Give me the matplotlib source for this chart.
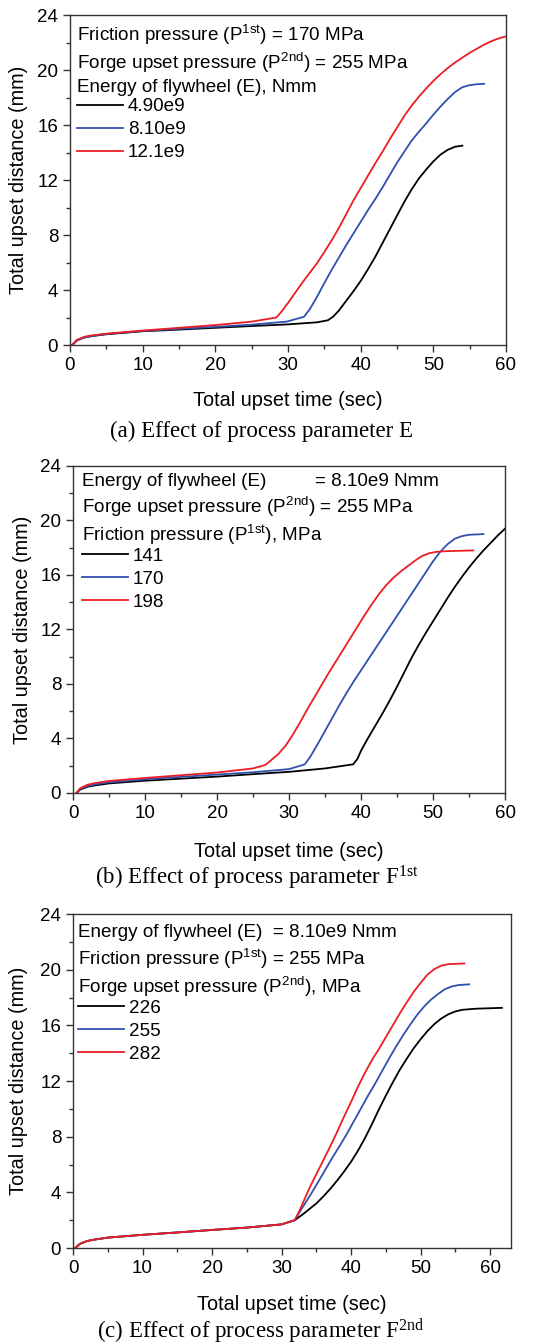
import numpy as np
import matplotlib.pyplot as plt
from matplotlib.ticker import MultipleLocator

plt.rcParams['font.family'] = 'Liberation Sans'
plt.rcParams['mathtext.default'] = 'regular'

# (a) effect of flywheel energy E
t_a_black = [0.3, 1, 2, 3, 5, 10, 15, 20, 25, 30, 34, 35.5, 36.2, 37, 38, 39, 40, 41, 42,
             43, 44, 45, 46, 47, 48, 49, 50, 51, 52, 53, 54]
d_a_black = [0, 0.35, 0.55, 0.65, 0.78, 1.0, 1.12, 1.25, 1.38, 1.5, 1.65, 1.8, 2.05, 2.5, 3.2,
             3.9, 4.65, 5.5, 6.4, 7.4, 8.4, 9.4, 10.4, 11.3, 12.1, 12.75, 13.35, 13.85, 14.2,
             14.42, 14.5]
t_a_blue = [0.3, 1, 2, 3, 5, 10, 15, 20, 25, 29.8, 32.2, 33, 34, 35, 36, 37, 38, 39, 40, 41,
            42, 43, 44, 45, 46, 47, 48, 49, 50, 51, 52, 53, 54, 55, 56, 57]
d_a_blue = [0, 0.35, 0.55, 0.65, 0.8, 1.02, 1.18, 1.32, 1.48, 1.7, 2.05, 2.6, 3.5, 4.5, 5.45,
            6.35, 7.25, 8.1, 8.95, 9.8, 10.6, 11.45, 12.35, 13.25, 14.05, 14.85, 15.5, 16.1,
            16.75, 17.35, 17.9, 18.4, 18.75, 18.9, 18.97, 19.0]
t_a_red = [0.3, 1, 2, 3, 5, 10, 15, 20, 25, 28.4, 29, 30, 31, 32, 33, 34, 35, 36, 37, 38, 39,
           40, 41, 42, 43, 44, 45, 46, 47, 48, 49, 50, 51, 52, 53, 54, 55, 56, 57, 58, 59, 60]
d_a_red = [0, 0.38, 0.6, 0.7, 0.82, 1.05, 1.25, 1.45, 1.7, 2.0, 2.35, 3.05, 3.8, 4.55, 5.25,
           5.95, 6.75, 7.6, 8.5, 9.5, 10.5, 11.4, 12.3, 13.2, 14.05, 14.95, 15.8, 16.65, 17.4,
           18.05, 18.65, 19.2, 19.7, 20.15, 20.55, 20.9, 21.25, 21.55, 21.85, 22.1, 22.3, 22.45]

# (b) effect of friction pressure P1st
t_b_black = [0.5, 1, 2, 3, 5, 10, 15, 20, 25, 30, 35, 38.9, 39.5, 40, 41, 42, 43, 44, 45, 46,
             47, 48, 49, 50, 51, 52, 53, 54, 55, 56, 57, 58, 59, 60]
d_b_black = [0, 0.25, 0.45, 0.55, 0.7, 0.9, 1.05, 1.2, 1.38, 1.55, 1.8, 2.1, 2.5, 3.1, 4.05,
             4.95, 5.85, 6.8, 7.8, 8.85, 9.9, 10.85, 11.75, 12.6, 13.45, 14.3, 15.1, 15.85,
             16.55, 17.2, 17.8, 18.35, 18.9, 19.4]
t_b_blue = [0.5, 1, 2, 3, 5, 10, 15, 20, 25, 30, 32.2, 33, 34, 35, 36, 37, 38, 39, 40, 41, 42,
            43, 44, 45, 46, 47, 48, 49, 50, 51, 52, 53, 54, 55, 57]
d_b_blue = [0, 0.3, 0.5, 0.62, 0.78, 1.0, 1.18, 1.35, 1.52, 1.75, 2.1, 2.7, 3.6, 4.55, 5.5,
            6.45, 7.35, 8.2, 9.0, 9.8, 10.6, 11.4, 12.2, 13.0, 13.8, 14.6, 15.4, 16.2, 17.0,
            17.7, 18.25, 18.65, 18.85, 18.95, 19.0]
t_b_red = [0.5, 1, 2, 3, 5, 10, 15, 20, 25, 26.7, 27.5, 28.5, 29.5, 30.5, 31.5, 32.5, 33.5,
           34.5, 35.5, 36.5, 37.5, 38.5, 39.5, 40.5, 41.5, 42.5, 43.5, 44.5, 45.5, 46.5, 47.5,
           48.5, 49.5, 50.5, 52, 55.6]
d_b_red = [0, 0.35, 0.6, 0.72, 0.88, 1.1, 1.3, 1.5, 1.8, 2.05, 2.4, 2.85, 3.45, 4.25, 5.15,
           6.1, 7.0, 7.9, 8.8, 9.65, 10.5, 11.35, 12.2, 13.05, 13.85, 14.6, 15.25, 15.8, 16.25,
           16.65, 17.05, 17.4, 17.6, 17.7, 17.75, 17.8]

# (c) effect of forge upset pressure P2nd (same friction stage for all three)
t_c_base = [0.3, 1, 2, 3, 5, 10, 15, 20, 25, 30, 31.9]
d_c_base = [0, 0.3, 0.5, 0.6, 0.75, 0.95, 1.12, 1.3, 1.47, 1.7, 2.0]
t_c_black = [33, 34, 35, 36, 37, 38, 39, 40, 41, 42, 43, 44, 45, 46, 47, 48, 49, 50, 51, 52,
             53, 54, 55, 56, 58, 61.7]
d_c_black = [2.4, 2.8, 3.2, 3.7, 4.25, 4.85, 5.5, 6.2, 7.0, 7.9, 8.9, 9.95, 10.95, 11.9,
             12.8, 13.6, 14.35, 15.0, 15.6, 16.1, 16.5, 16.8, 17.0, 17.12, 17.2, 17.26]
t_c_blue = [32.5, 33.5, 34.5, 35.5, 36.5, 37.5, 38.5, 39.5, 40.5, 41.5, 42.5, 43.5, 44.5, 45.5,
            46.5, 47.5, 48.5, 49.5, 50.5, 51.5, 52.5, 53.5, 54.5, 55.5, 57]
d_c_blue = [2.5, 3.3, 4.1, 4.95, 5.8, 6.65, 7.45, 8.3, 9.2, 10.1, 11.0, 11.85, 12.75, 13.65,
            14.5, 15.3, 16.05, 16.75, 17.35, 17.85, 18.25, 18.6, 18.8, 18.9, 18.95]
t_c_red = [32.5, 33.3, 34.1, 35, 36, 37, 38, 39, 40, 41, 42, 43, 44, 45, 46, 47, 48, 49, 50,
           51, 52, 53, 54, 56.3]
d_c_red = [2.6, 3.5, 4.4, 5.3, 6.3, 7.3, 8.35, 9.45, 10.5, 11.6, 12.6, 13.5, 14.3, 15.15,
           16.0, 16.85, 17.65, 18.4, 19.05, 19.65, 20.05, 20.3, 20.4, 20.45]

labels_a = ['4.90e9', '8.10e9', '12.1e9']
labels_b = ['141', '170', '198']
labels_c = ['226', '255', '282']
colors = ['black', '#3050ad', '#ee1c24']

FS = 13.6      # header / legend text
FS_LAB = 14.3  # axis titles

fig = plt.figure(figsize=(5.38, 13.44), dpi=100)
ax_a = fig.add_axes([0.130, 0.7433, 0.8104, 0.2455])
ax_b = fig.add_axes([0.1357, 0.41, 0.803, 0.2433])
ax_c = fig.add_axes([0.1357, 0.0714, 0.814, 0.2485])


def style(ax, xmax, ylab_x, xlab_y):
    ax.set_xlim(0, xmax)
    ax.set_ylim(0, 24)
    ax.xaxis.set_major_locator(MultipleLocator(10))
    ax.xaxis.set_minor_locator(MultipleLocator(5))
    ax.yaxis.set_major_locator(MultipleLocator(4))
    ax.yaxis.set_minor_locator(MultipleLocator(2))
    ax.tick_params(which='both', direction='out', top=False, right=False,
                   labelsize=13.5, width=1, color='#333333')
    ax.tick_params(which='major', length=5)
    ax.tick_params(which='minor', length=3)
    for s in ax.spines.values():
        s.set_linewidth(1)
        s.set_color('#333333')
    ax.set_xlabel('Total upset time (sec)', fontsize=FS_LAB)
    ax.set_ylabel('Total upset distance (mm)', fontsize=FS_LAB)
    ax.yaxis.set_label_coords(ylab_x, 0.5)
    ax.xaxis.set_label_coords(0.5, xlab_y)


def add_legend(ax, handles, x_left, y_top):
    ax.legend(handles=handles, loc='upper left', bbox_to_anchor=(x_left, y_top),
              frameon=False, fontsize=FS, handlelength=2.45, handletextpad=0.25,
              labelspacing=0.3, borderaxespad=0, borderpad=0)


def header(ax, x, ys, lines):
    for y, s in zip(ys, lines):
        ax.text(x, y, s, transform=ax.transAxes, fontsize=FS, va='baseline')


# panel (a)
h = []
h += ax_a.plot(t_a_black, d_a_black, color=colors[0], lw=1.3, label=labels_a[0])
h += ax_a.plot(t_a_blue, d_a_blue, color=colors[1], lw=1.3, label=labels_a[1])
h += ax_a.plot(t_a_red, d_a_red, color=colors[2], lw=1.3, label=labels_a[2])
style(ax_a, 60, -0.096, -0.14)
header(ax_a, 0.016, [0.922, 0.838, 0.768],
       ['Friction pressure (P$^{1st}$) = 170 MPa',
        'Forge upset pressure (P$^{2nd}$) = 255 MPa',
        'Energy of flywheel (E), Nmm'])
add_legend(ax_a, h, 0.016, 0.748)

# panel (b)
h = []
h += ax_b.plot(t_b_black, d_b_black, color=colors[0], lw=1.3, label=labels_b[0])
h += ax_b.plot(t_b_blue, d_b_blue, color=colors[1], lw=1.3, label=labels_b[1])
h += ax_b.plot(t_b_red, d_b_red, color=colors[2], lw=1.3, label=labels_b[2])
style(ax_b, 60, -0.096, -0.15)
header(ax_b, 0.02, [0.939, 0.855, 0.772],
       ['Energy of flywheel (E)',
        'Forge upset pressure (P$^{2nd}$) = 255 MPa',
        'Friction pressure (P$^{1st}$), MPa'])
ax_b.text(0.56, 0.939, '= 8.10e9 Nmm', transform=ax_b.transAxes, fontsize=FS, va='baseline')
add_legend(ax_b, h, 0.02, 0.75)

# panel (c)
h = []
h += ax_c.plot(t_c_base + t_c_black, d_c_base + d_c_black, color=colors[0], lw=1.3, label=labels_c[0])
h += ax_c.plot(t_c_base + t_c_blue, d_c_base + d_c_blue, color=colors[1], lw=1.3, label=labels_c[1])
h += ax_c.plot(t_c_base + t_c_red, d_c_base + d_c_red, color=colors[2], lw=1.3, label=labels_c[2])
style(ax_c, 63, -0.103, -0.14)
header(ax_c, 0.011, [0.930, 0.847, 0.765],
       ['Energy of flywheel (E)  = 8.10e9 Nmm',
        'Friction pressure (P$^{1st}$) = 255 MPa',
        'Forge upset pressure (P$^{2nd}$), MPa'])
add_legend(ax_c, h, 0.011, 0.743)

# captions
cap = dict(fontsize=16.5, family='Liberation Serif', ha='center', va='baseline')
fig.text(261 / 538, 1 - 437 / 1344, '(a) Effect of process parameter E', **cap)
fig.text(257 / 538, 1 - 885 / 1344, '(b) Effect of process parameter F$^{1st}$', **cap)
fig.text(261 / 538, 1 - 1338 / 1344, '(c) Effect of process parameter F$^{2nd}$', **cap)

fig.savefig('out.png', dpi=100)
